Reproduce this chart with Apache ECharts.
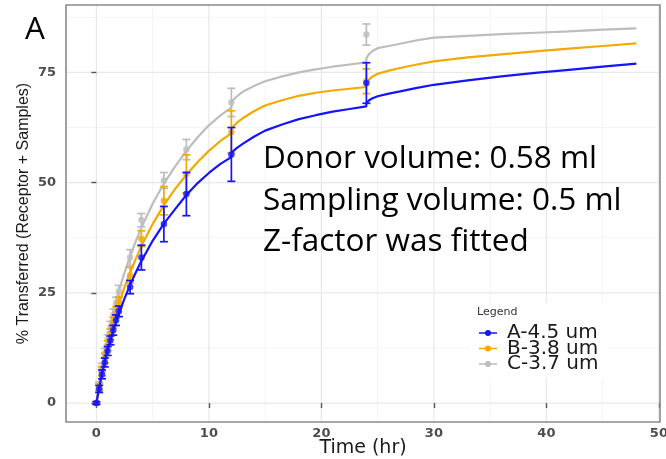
<!DOCTYPE html>
<html><head><meta charset="utf-8">
<script src="https://cdn.jsdelivr.net/npm/echarts@6/dist/echarts.min.js"></script>
<style>html,body{margin:0;padding:0;background:#fff}#c{width:666px;height:459px}</style>
</head><body><div id="c"></div>
<script>
// ---- data ----
const seriesNames = ['A-4.5 um', 'B-3.8 um', 'C-3.7 um'];
const sampleTimes = [0, 0.25, 0.5, 0.75, 1, 1.25, 1.5, 1.75, 2, 3, 4, 6, 8, 12, 24];
const blueMean   = [0, 3.2, 6.5, 9.2, 11.8, 14.2, 16.5, 18.8, 20.8, 26.3, 33.0, 40.6, 47.4, 56.4, 72.6];
const blueErr    = [0.3, 0.8, 1.0, 1.0, 1.0, 1.0, 1.1, 1.2, 1.2, 1.5, 2.8, 4.0, 4.9, 6.1, 4.6];
const orangeMean = [0, 3.6, 7.2, 10.2, 13.0, 15.6, 18.2, 20.6, 22.8, 29.0, 37.3, 45.9, 52.0, 61.5, 73.0];
const orangeErr  = [0.3, 0.8, 1.0, 1.1, 1.1, 1.2, 1.2, 1.3, 1.3, 1.8, 1.8, 3.2, 4.3, 4.8, 2.8];
const grayMean   = [0, 4.0, 8.0, 11.3, 14.4, 17.3, 20.0, 22.7, 25.3, 33.0, 41.5, 50.5, 57.5, 68.2, 83.6];
const grayErr    = [0.3, 0.8, 1.0, 1.1, 1.1, 1.2, 1.3, 1.3, 1.4, 1.8, 1.5, 1.8, 2.3, 3.2, 2.4];

const fitTimes  = [0, 0.25, 0.5, 0.75, 1, 1.5, 2, 2.5, 3, 3.5, 4, 5, 6, 7, 8, 9, 10, 11, 11.99, 12.01, 12.5, 13, 14, 15, 16.5, 18, 19.5, 21, 22.5, 23.99, 24.01, 24.25, 24.5, 25, 26, 27, 28.5, 30, 33, 36, 39, 42, 45, 48];
const blueFit   = [0, 3.4, 6.6, 9.4, 12.0, 16.4, 20.3, 23.7, 26.8, 29.6, 32.2, 36.8, 40.7, 44.0, 47.2, 49.9, 52.2, 54.2, 55.8, 56.8, 57.9, 58.8, 60.4, 61.8, 63.2, 64.4, 65.3, 66.1, 66.7, 67.3, 68.1, 68.7, 69.1, 69.6, 70.2, 70.7, 71.5, 72.2, 73.2, 74.1, 74.9, 75.6, 76.3, 77.0];
const orangeFit = [0, 3.8, 7.3, 10.4, 13.2, 18.2, 22.5, 26.3, 29.6, 32.7, 35.6, 40.6, 44.9, 48.6, 51.8, 54.7, 57.2, 59.4, 61.2, 62.4, 63.6, 64.6, 66.2, 67.5, 68.7, 69.7, 70.4, 70.9, 71.3, 71.7, 72.6, 73.4, 74.0, 74.7, 75.4, 76.0, 76.8, 77.5, 78.4, 79.1, 79.8, 80.4, 81.0, 81.6];
const grayFit   = [0, 4.3, 8.3, 11.8, 15.0, 20.6, 25.5, 29.6, 33.3, 36.7, 39.8, 45.2, 49.8, 53.7, 57.2, 60.3, 63.0, 65.2, 67.0, 68.4, 69.6, 70.6, 71.9, 73.0, 74.1, 75.0, 75.7, 76.3, 76.8, 77.3, 78.3, 79.2, 79.8, 80.5, 81.0, 81.5, 82.3, 82.9, 83.3, 83.7, 84.0, 84.3, 84.7, 85.0];

const xTicks = [0, 10, 20, 30, 40, 50];
const xMinor = [5, 15, 25, 35, 45];
const yTicks = [0, 25, 50, 75];
const yMinor = [12.5, 37.5, 62.5, 87.5];

const annotationLines = ['Donor volume: 0.58 ml', 'Sampling volume: 0.5 ml', 'Z-factor was fitted'];
const panelLabel = 'A';
const legendTitle = 'Legend';

// ---- styles ----
const colors = ['#1414ff', '#f2a900', '#bdbdbd'];
const means = [blueMean, orangeMean, grayMean];
const errs = [blueErr, orangeErr, grayErr];
const fits = [blueFit, orangeFit, grayFit];

function gridSeries(vals, vertical, color, width) {
  return {
    type: 'custom', silent: true, z: 0, clip: true,
    data: vals.map(v => vertical ? [v, 0] : [0, v]),
    renderItem: function (params, api) {
      const cs = params.coordSys;
      if (vertical) {
        const x = api.coord([api.value(0), 0])[0];
        return {type: 'line', shape: {x1: x, y1: cs.y, x2: x, y2: cs.y + cs.height}, style: {stroke: color, lineWidth: width}};
      } else {
        const y = api.coord([0, api.value(1)])[1];
        return {type: 'line', shape: {x1: cs.x, y1: y, x2: cs.x + cs.width, y2: y}, style: {stroke: color, lineWidth: width}};
      }
    }
  };
}

const series = [
  gridSeries(xMinor, true, '#f4f4f4', 1),
  gridSeries(yMinor, false, '#f4f4f4', 1),
  gridSeries(xTicks, true, '#e8e8e8', 1.2),
  gridSeries(yTicks, false, '#e8e8e8', 1.2)
];

[2, 1, 0].forEach(function (i) {
  const zBase = 3 + (2 - i) * 3;
  series.push({
    name: seriesNames[i], type: 'line', z: zBase,
    data: fitTimes.map((t, k) => [t, fits[i][k]]),
    showSymbol: false, symbol: 'none', smooth: false,
    lineStyle: {color: colors[i], width: 2.2}, itemStyle: {color: colors[i]},
    silent: true
  });
  series.push({
    type: 'custom', z: zBase + 1, silent: true,
    data: sampleTimes.map((t, k) => [t, means[i][k] - errs[i][k], means[i][k] + errs[i][k]]),
    renderItem: function (params, api) {
      const lo = api.coord([api.value(0), api.value(1)]);
      const hi = api.coord([api.value(0), api.value(2)]);
      const w = 4;
      const st = {stroke: colors[i], lineWidth: 1.7};
      return {type: 'group', children: [
        {type: 'line', shape: {x1: lo[0], y1: lo[1], x2: hi[0], y2: hi[1]}, style: st},
        {type: 'line', shape: {x1: lo[0] - w, y1: lo[1], x2: lo[0] + w, y2: lo[1]}, style: st},
        {type: 'line', shape: {x1: hi[0] - w, y1: hi[1], x2: hi[0] + w, y2: hi[1]}, style: st}
      ]};
    }
  });
  series.push({
    type: 'scatter', z: zBase + 2, silent: true,
    data: sampleTimes.map((t, k) => [t, means[i][k]]),
    symbol: 'circle', symbolSize: 6.5, itemStyle: {color: colors[i]}
  });
});

const iconPath = 'path://M0,2.2 L18,2.2 L18,3.8 L0,3.8 Z M9,0 A3,3,0,1,1,9,6 A3,3,0,1,1,9,0 Z';

const option = {
  animation: false,
  backgroundColor: '#ffffff',
  grid: {left: 66, right: 6, top: 5, bottom: 37, show: true, borderColor: '#8a8a8a', borderWidth: 1.6, backgroundColor: 'transparent', z: 20, outerBoundsMode: 'none', containLabel: false},
  xAxis: {
    type: 'value', min: -2.7, max: 50.1,
    axisLine: {show: false},
    axisTick: {show: true, customValues: xTicks, length: 5, lineStyle: {color: '#555', width: 1.4}},
    axisLabel: {customValues: xTicks, fontFamily: 'DejaVu Sans', fontWeight: 'bold', fontSize: 13, color: '#4d4d4d', margin: 5},
    splitLine: {show: false},
    name: 'Time (hr)', nameLocation: 'middle', nameGap: 17, nameMoveOverlap: false,
    nameTextStyle: {fontFamily: 'DejaVu Sans', fontSize: 19, color: '#1a1a1a', verticalAlign: 'top'}
  },
  yAxis: {
    type: 'value', min: -4.3, max: 90.3,
    axisLine: {show: false},
    axisTick: {show: true, customValues: yTicks, length: 5, lineStyle: {color: '#555', width: 1.4}},
    axisLabel: {customValues: yTicks, fontFamily: 'DejaVu Sans', fontWeight: 'bold', fontSize: 13, color: '#4d4d4d', margin: 10},
    splitLine: {show: false},
    name: '% Transferred (Receptor + Samples)', nameLocation: 'middle', nameGap: 34, nameMoveOverlap: false,
    nameTextStyle: {fontFamily: 'Liberation Sans', fontSize: 16, color: '#1a1a1a'}
  },
  legend: {
    show: true, orient: 'vertical', left: 470, top: 303,
    data: seriesNames.map(n => ({name: n, icon: iconPath})),
    itemWidth: 18, itemHeight: 6, itemGap: -4.5,
    backgroundColor: '#ffffff', padding: [20, 9, 4, 9],
    textStyle: {fontFamily: 'DejaVu Sans', fontSize: 20, color: '#1a1a1a', lineHeight: 15.5, padding: [0, 0, 0, 5]},
    selectedMode: false, z: 30
  },
  graphic: [
    {type: 'text', z: 100, left: 477, top: 307, style: {text: legendTitle, font: '11px "DejaVu Sans"', fill: '#333'}},
    {type: 'text', z: 100, left: 25, top: 14, style: {text: panelLabel, font: '31.5px "Open Sans"', fill: '#000'}},
    {type: 'text', z: 100, x: 263, y: 159.5, style: {text: annotationLines[0], font: '31.5px "Open Sans"', fill: '#000', verticalAlign: 'middle'}},
    {type: 'text', z: 100, x: 263, y: 201, style: {text: annotationLines[1], font: '31.5px "Open Sans"', fill: '#000', verticalAlign: 'middle'}},
    {type: 'text', z: 100, x: 263, y: 242.5, style: {text: annotationLines[2], font: '31.5px "Open Sans"', fill: '#000', verticalAlign: 'middle'}}
  ],
  series: series
};

const chart = echarts.init(document.getElementById('c'));
chart.setOption(option);
</script>
</body></html>
